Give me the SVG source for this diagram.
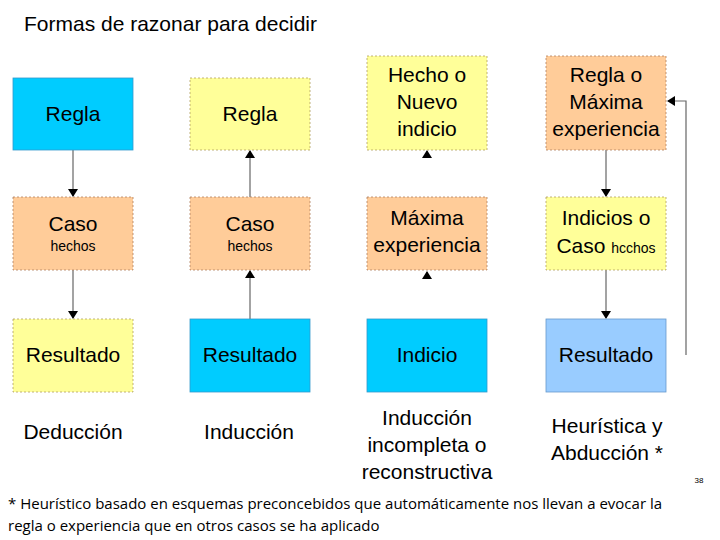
<svg xmlns="http://www.w3.org/2000/svg" width="720" height="540" viewBox="0 0 720 540">
<style>
text{font-family:"Liberation Sans",Arial,sans-serif;fill:#000;text-anchor:middle}
.b{font-size:21px}.s{font-size:14px}.l{font-size:21px}
.y{fill:#ffff99;stroke:#b0a060;stroke-dasharray:2 2;stroke-width:0.8}
.o{fill:#ffcc99;stroke:#b08060;stroke-dasharray:2 2;stroke-width:0.8}
.c{fill:#00ccff;stroke:#3399cc;stroke-width:0.8}
.lb{fill:#99ccff;stroke:#6699cc;stroke-width:0.8}
.e{stroke:#666;stroke-width:1.2;fill:none}
</style>
<defs><marker id="a" markerWidth="8" markerHeight="10" refX="7" refY="5" orient="auto" markerUnits="userSpaceOnUse"><path d="M0,0 L8,5 L0,10z" fill="#000"/></marker></defs>
<rect width="720" height="540" fill="#fff"/>
<text x="24" y="31" style="font-size:21px;text-anchor:start">Formas de razonar para decidir</text>
<g id="connectors">
<line class="e" x1="73" y1="150" x2="73" y2="196" marker-end="url(#a)"/>
<line class="e" x1="73" y1="270" x2="73" y2="318" marker-end="url(#a)"/>
<line class="e" x1="250" y1="197" x2="250" y2="151" marker-end="url(#a)"/>
<line class="e" x1="250" y1="319" x2="250" y2="271" marker-end="url(#a)"/>
<line class="e" x1="427" y1="158" x2="427" y2="151" marker-end="url(#a)"/>
<line class="e" x1="427" y1="279" x2="427" y2="272" marker-end="url(#a)"/>
<line class="e" x1="606" y1="150" x2="606" y2="196" marker-end="url(#a)"/>
<line class="e" x1="606" y1="270" x2="606" y2="318" marker-end="url(#a)"/>
<polyline class="e" points="686,355 686,101 668,101" marker-end="url(#a)"/>
</g>
<g id="n1"><rect class="c" x="13" y="78" width="120" height="72"/><text class="b" x="73" y="121">Regla</text></g>
<g id="n2"><rect class="o" x="13" y="197" width="120" height="73"/><text class="b" x="73" y="231">Caso</text><text class="s" x="73" y="251">hechos</text></g>
<g id="n3"><rect class="y" x="13" y="319" width="120" height="73"/><text class="b" x="73" y="362">Resultado</text></g>
<g id="n4"><rect class="y" x="190" y="78" width="120" height="72"/><text class="b" x="250" y="121">Regla</text></g>
<g id="n5"><rect class="o" x="190" y="197" width="120" height="73"/><text class="b" x="250" y="231">Caso</text><text class="s" x="250" y="251">hechos</text></g>
<g id="n6"><rect class="c" x="190" y="319" width="120" height="73"/><text class="b" x="250" y="362">Resultado</text></g>
<g id="n7"><rect class="y" x="367" y="56" width="120" height="94"/><text class="b" x="427" y="82">Hecho o</text><text class="b" x="427" y="109">Nuevo</text><text class="b" x="427" y="136">indicio</text></g>
<g id="n8"><rect class="o" x="367" y="197" width="120" height="73"/><text class="b" x="427" y="225">Máxima</text><text class="b" x="427" y="252">experiencia</text></g>
<g id="n9"><rect class="c" x="367" y="319" width="120" height="73"/><text class="b" x="427" y="362">Indicio</text></g>
<g id="n10"><rect class="o" x="546" y="56" width="120" height="94"/><text class="b" x="606" y="82">Regla o</text><text class="b" x="606" y="109">Máxima</text><text class="b" x="606" y="136">experiencia</text></g>
<g id="n11"><rect class="y" x="546" y="197" width="120" height="73"/><text class="b" x="606" y="225">Indicios o</text><text class="b" x="606" y="253">Caso <tspan style="font-size:14px">hcchos</tspan></text></g>
<g id="n12"><rect class="lb" x="546" y="319" width="120" height="73"/><text class="b" x="606" y="362">Resultado</text></g>
<g id="labels">
<text class="l" x="73" y="439">Deducción</text>
<text class="l" x="249" y="439">Inducción</text>
<text class="l" x="427" y="425">Inducción</text>
<text class="l" x="427" y="452">incompleta o</text>
<text class="l" x="427" y="479">reconstructiva</text>
<text class="l" x="607" y="433">Heurística y</text>
<text class="l" x="607" y="460">Abducción *</text>
<text x="699" y="483" style="font-size:8px">38</text>
<text x="8" y="509" style="font-size:15px;text-anchor:start;font-family:'Open Sans',sans-serif">* Heurístico basado en esquemas preconcebidos que automáticamente nos llevan a evocar la</text>
<text x="8" y="531" style="font-size:15px;text-anchor:start;font-family:'Open Sans',sans-serif">regla o experiencia que en otros casos se ha aplicado</text>
</g>
</svg>
